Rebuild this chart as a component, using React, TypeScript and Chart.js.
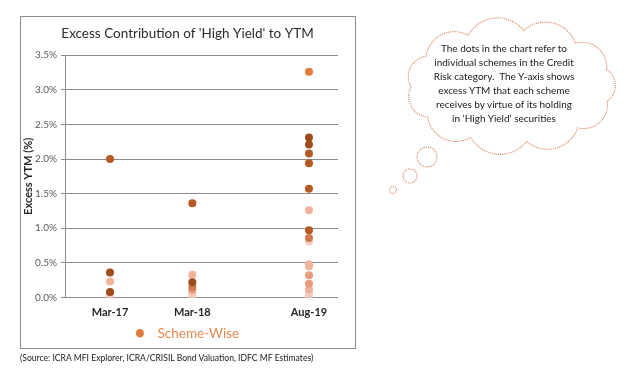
import React, { useEffect, useRef } from 'react';
import { Chart, registerables } from 'chart.js';
Chart.register(...registerables);

const periods = ['Mar-17', 'Mar-18', 'Aug-19'];
const periodMonths = [0, 12, 29]; // months after Mar-17 (date axis)

// Excess YTM (%) per period (Mar-17, Mar-18, Aug-19), grouped by dot shade
const darkBrownValues = [[0.36, 0.08], [0.22], [2.31, 2.21]];
const rustValues = [[2.0], [1.36], [2.08, 1.94, 1.57, 0.97]];
const orangeValues = [[], [], [3.26]];
const copperValues = [[], [0.15], [0.86]];
const peachValues = [[], [0.11], [0.32, 0.2]];
const lightPeachValues = [[0.23], [0.33], [1.26, 0.48, 0.45, 0.12]];
const paleValues = [[0.03], [0.06, 0.02], [0.81, 0.08, 0.03]];
const veryPaleValues = [[0.0], [0.0], [0.0]];

const yMin = 0;
const yMax = 3.5;
const yStep = 0.5;

const FONT = 'Lato, "Open Sans", sans-serif';

function toPoints(groups: number[][]) {
  const pts: { x: number; y: number }[] = [];
  groups.forEach((vals, i) => vals.forEach((v) => pts.push({ x: periodMonths[i], y: v })));
  return pts;
}

function cloudPath(cx: number, cy: number, rx: number, ry: number, n: number, off: number) {
  const pts: [number, number][] = [];
  for (let i = 0; i < n; i++) {
    const a = off + (i / n) * Math.PI * 2;
    pts.push([cx + rx * Math.cos(a), cy + ry * Math.sin(a)]);
  }
  let d = `M ${pts[0][0].toFixed(1)} ${pts[0][1].toFixed(1)}`;
  for (let i = 0; i < n; i++) {
    const p = pts[i];
    const q = pts[(i + 1) % n];
    const chord = Math.hypot(q[0] - p[0], q[1] - p[1]);
    const r = chord * 0.6;
    d += ` A ${r.toFixed(1)} ${r.toFixed(1)} 0 0 1 ${q[0].toFixed(1)} ${q[1].toFixed(1)}`;
  }
  return d + ' Z';
}

export default function App() {
  const ref = useRef<HTMLCanvasElement | null>(null);

  useEffect(() => {
    if (!ref.current) return;
    const groups = [
      { label: 'dark', values: darkBrownValues, color: '#9E4C1C' },
      { label: 'rust', values: rustValues, color: '#B65A24' },
      { label: 'orange', values: orangeValues, color: '#E07B39' },
      { label: 'copper', values: copperValues, color: '#CF7B50' },
      { label: 'peach', values: peachValues, color: '#E99C80' },
      { label: 'lightPeach', values: lightPeachValues, color: '#F2B39D' },
      { label: 'pale', values: paleValues, color: '#F6CBBB' },
      { label: 'veryPale', values: veryPaleValues, color: '#FBE2D8' },
    ];
    const chart = new Chart(ref.current, {
      type: 'scatter',
      data: {
        datasets: groups.map((g) => ({
          label: g.label,
          data: toPoints(g.values),
          backgroundColor: g.color,
          borderColor: g.color,
          borderWidth: 0,
          pointRadius: 4,
          pointHoverRadius: 4,
        })),
      },
      options: {
        animation: false,
        responsive: false,
        devicePixelRatio: 1,
        layout: { padding: { left: 20, top: 16, right: 279, bottom: 25 } },
        plugins: {
          tooltip: { enabled: false },
          title: {
            display: true,
            text: "Excess Contribution of 'High Yield' to YTM",
            color: '#2B2B2B',
            font: { family: FONT, size: 13.5, weight: 'normal' },
            padding: { top: 10, bottom: 13 },
          },
          legend: {
            position: 'bottom',
            labels: {
              usePointStyle: true,
              pointStyle: 'circle',
              boxHeight: 6,
              pointStyleWidth: 8,
              padding: 6,
              color: '#E68A54',
              font: { family: FONT, size: 13.5 },
              generateLabels: () => [
                {
                  text: '  Scheme-Wise',
                  fillStyle: '#E07B39',
                  strokeStyle: '#E07B39',
                  lineWidth: 0,
                  pointStyle: 'circle',
                  hidden: false,
                  datasetIndex: 0,
                  fontColor: '#E68A54',
                } as any,
              ],
            },
          },
        },
        scales: {
          x: {
            type: 'linear',
            position: 'bottom',
            min: -6.56,
            max: 33.23,
            grid: { display: false, drawTicks: false, tickLength: 0 },
            border: { display: false },
            ticks: {
              color: '#262626',
              font: { family: FONT, size: 11, weight: 'bold' },
              padding: 8,
              autoSkip: false,
              maxRotation: 0,
              callback: (v: any) => {
                const i = periodMonths.indexOf(Number(v));
                return i >= 0 ? periods[i] : '';
              },
            },
            afterBuildTicks: (s: any) => {
              s.ticks = periodMonths.map((m) => ({ value: m }));
            },
            afterFit: (s: any) => {
              s.height = 23;
            },
          },
          y: {
            position: 'left',
            min: yMin,
            max: yMax,
            ticks: {
              stepSize: yStep,
              color: '#595959',
              font: { family: FONT, size: 10 },
              padding: 4,
              callback: (v: any) => Number(v).toFixed(1) + '%',
            },
            grid: { color: '#8C8C8C', tickLength: 4, lineWidth: 1 },
            border: { color: '#8C8C8C' },
            title: {
              display: true,
              text: 'Excess YTM (%)',
              color: '#262626',
              font: { family: FONT, size: 11, weight: 'bold' },
              padding: { top: 2, bottom: 0 },
            },
            afterFit: (s: any) => {
              s.width = 45;
            },
          },
          y2: {
            position: 'right',
            display: true,
            grid: { display: false },
            border: { display: false },
            ticks: { display: false },
            afterFit: (s: any) => {
              s.width = 17;
            },
          },
        },
      } as any,
    });
    return () => chart.destroy();
  }, []);

  const cloud = cloudPath(511, 86, 100, 56, 11, -0.3);

  return (
    <div style={{ position: 'absolute', left: 0, top: 0, width: 634, height: 375, background: '#fff', overflow: 'hidden' }}>
      <div
        style={{
          position: 'absolute',
          left: 20,
          top: 16,
          width: 334,
          height: 331,
          border: '1px solid #8C8C8C',
        }}
      />
      <canvas ref={ref} width={634} height={375} style={{ position: 'absolute', left: 0, top: 0, width: 634, height: 375 }} />
      <div
        style={{
          position: 'absolute',
          left: 20,
          top: 353,
          fontFamily: FONT,
          fontSize: 8.6,
          color: '#1A1A1A',
          whiteSpace: 'nowrap',
        }}
      >
        (Source: ICRA MFI Explorer, ICRA/CRISIL Bond Valuation, IDFC MF Estimates)
      </div>
      <svg width={634} height={375} style={{ position: 'absolute', left: 0, top: 0 }}>
        <g fill="none" stroke="#D9865E" strokeWidth={1.2} strokeDasharray="0.1 2" strokeLinecap="round">
          <path d={cloud} />
          <circle cx={427} cy={157} r={10} />
          <circle cx={410} cy={176} r={7} />
          <circle cx={393} cy={190} r={3.5} />
        </g>
      </svg>
      <div
        style={{
          position: 'absolute',
          left: 424,
          top: 41,
          width: 160,
          textAlign: 'center',
          fontFamily: FONT,
          fontSize: 10,
          lineHeight: '14px',
          color: '#1A1A1A',
          whiteSpace: 'nowrap',
        }}
      >
        The dots in the chart refer to
        <br />
        individual schemes in the Credit
        <br />
        Risk category.&nbsp; The Y-axis shows
        <br />
        excess YTM that each scheme
        <br />
        receives by virtue of its holding
        <br />
        in ‘High Yield’ securities
      </div>
    </div>
  );
}
